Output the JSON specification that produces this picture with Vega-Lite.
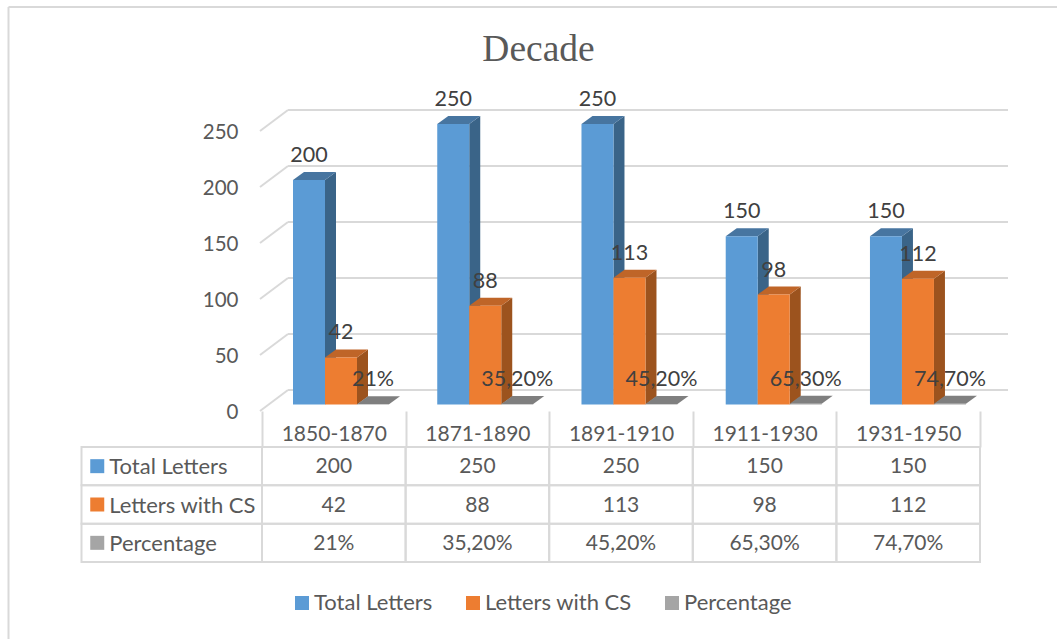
{
"$schema":"https://vega.github.io/schema/vega-lite/v6.json",
"width":1057,"height":639,"autosize":"none","padding":0,"background":"white",
"title":{"text":"Decade","font":"Liberation Serif","fontSize":37.5,"fontWeight":"normal","color":"#595959","anchor":"middle","frame":"group","orient":"top","offset":-68,"dx":10},
"config":{"view":{"stroke":null},"font":"Lato","text":{"font":"Lato"}},
"datasets":{
"bars":[
{"decade":"1850-1870","series":"Total Letters","value":200,"label":"200"},
{"decade":"1871-1890","series":"Total Letters","value":250,"label":"250"},
{"decade":"1891-1910","series":"Total Letters","value":250,"label":"250"},
{"decade":"1911-1930","series":"Total Letters","value":150,"label":"150"},
{"decade":"1931-1950","series":"Total Letters","value":150,"label":"150"},
{"decade":"1850-1870","series":"Letters with CS","value":42,"label":"42"},
{"decade":"1871-1890","series":"Letters with CS","value":88,"label":"88"},
{"decade":"1891-1910","series":"Letters with CS","value":113,"label":"113"},
{"decade":"1911-1930","series":"Letters with CS","value":98,"label":"98"},
{"decade":"1931-1950","series":"Letters with CS","value":112,"label":"112"},
{"decade":"1850-1870","series":"Percentage","value":0.21,"label":"21%"},
{"decade":"1871-1890","series":"Percentage","value":0.352,"label":"35,20%"},
{"decade":"1891-1910","series":"Percentage","value":0.452,"label":"45,20%"},
{"decade":"1911-1930","series":"Percentage","value":0.653,"label":"65,30%"},
{"decade":"1931-1950","series":"Percentage","value":0.747,"label":"74,70%"}
],
"ticks":[{"tick":0},{"tick":50},{"tick":100},{"tick":150},{"tick":200},{"tick":250}],
"rows":[{"series":"Total Letters"},{"series":"Letters with CS"},{"series":"Percentage"}]
},
"layer":[
{"data":{"values":[{"k":"frame"}]},"mark":{"type":"rule","color":"#D9D9D9","strokeWidth":2},
 "encoding":{"x":{"datum":0,"type":"quantitative","axis":null,"scale":{"domain":[0,1],"range":[8.5,1057]}},"y":{"datum":0,"type":"quantitative","axis":null,"scale":{"domain":[0,1],"range":[7,639]}},"y2":{"datum":1}}},
{"data":{"values":[{"k":"frame"}]},"mark":{"type":"rule","color":"#D9D9D9","strokeWidth":2},
 "encoding":{"x":{"datum":0,"type":"quantitative","axis":null,"scale":{"domain":[0,1],"range":[8.5,1057]}},"x2":{"datum":1},"y":{"datum":0,"type":"quantitative","axis":null,"scale":{"domain":[0,1],"range":[7,639]}}}},
{"data":{"name":"ticks"},
 "encoding":{"y":{"field":"tick","type":"quantitative","axis":null,"scale":{"domain":[0,250],"range":[390,110]}}},
 "layer":[
 {"mark":{"type":"rule","color":"#D9D9D9","strokeWidth":2},
  "encoding":{"x":{"datum":0,"type":"quantitative","axis":null,"scale":{"domain":[0,1],"range":[288,1008]}},"x2":{"datum":1}}},
 {"mark":{"type":"point","shape":"M0,0L-28,21","size":4,"filled":false,"stroke":"#D9D9D9","strokeWidth":2,"opacity":1},
  "encoding":{"x":{"datum":0,"type":"quantitative","axis":null,"scale":{"domain":[0,1],"range":[288,1008]}}}}
 ]},
{"data":{"name":"bars"},
 "encoding":{
  "x":{"field":"decade","type":"nominal","title":null,
   "axis":{"orient":"bottom","offset":-228,"domain":false,"tickBand":"extent","tickColor":"#D9D9D9","tickWidth":2,"tickSize":36,"labelPadding":-24,"labelFont":"Lato","labelFontSize":21,"labelColor":"#595959","labelAngle":0,"grid":false,"zindex":0},
   "scale":{"type":"band","range":[262,980],"paddingInner":0,"paddingOuter":0}},
  "y":{"field":"series","type":"nominal","axis":null,"sort":["Total Letters","Letters with CS","Percentage"],"scale":{"type":"band","domain":["Total Letters","Letters with CS","Percentage"],"range":[447,562],"paddingInner":0,"paddingOuter":0}}},
 "layer":[
 {"mark":{"type":"rect","fill":"transparent","stroke":"#D9D9D9","strokeWidth":2}},
 {"mark":{"type":"text","fontSize":21,"color":"#595959","baseline":"middle","dy":1},"encoding":{"text":{"field":"label","type":"nominal"}}}
 ]},
{"data":{"name":"rows"},
 "encoding":{
  "x":{"datum":"Series","type":"nominal","axis":null,"scale":{"type":"band","domain":["Series"],"range":[81.5,262],"paddingInner":0,"paddingOuter":0}},
  "y":{"field":"series","type":"nominal","axis":null,"sort":["Total Letters","Letters with CS","Percentage"],"scale":{"type":"band","domain":["Total Letters","Letters with CS","Percentage"],"range":[447,562],"paddingInner":0,"paddingOuter":0}}},
 "layer":[
 {"mark":{"type":"rect","fill":"transparent","stroke":"#D9D9D9","strokeWidth":2}},
 {"mark":{"type":"text","fontSize":22,"color":"#595959","align":"left","baseline":"middle","dx":-62.5,"dy":1},"encoding":{"text":{"field":"series","type":"nominal"}}},
 {"mark":{"type":"point","shape":"square","size":196,"filled":true,"opacity":1,"strokeWidth":0,"xOffset":-74.5},
  "encoding":{"color":{"field":"series","type":"nominal","legend":null,"scale":{"domain":["Total Letters","Letters with CS","Percentage"],"range":["#5B9BD5","#ED7D31","#A5A5A5"]}}}}
 ]},
{"data":{"name":"bars"},
 "encoding":{
  "x":{"field":"decade","type":"nominal","axis":null,
   "scale":{"type":"band","range":[262,983.2],"paddingInner":0,"paddingOuter":0}},
  "xOffset":{"field":"series","type":"nominal","sort":["Total Letters","Letters with CS","Percentage"],"scale":{"type":"band","domain":["Total Letters","Letters with CS","Percentage"],"range":[31,127],"paddingInner":0,"paddingOuter":0}},
  "y":{"field":"value","type":"quantitative","title":null,"stack":null,
   "axis":{"orient":"left","offset":-242,"domain":false,"ticks":false,"grid":false,"values":[0,50,100,150,200,250],"labelAlign":"right","labelPadding":4,"labelOffset":8,"labelFont":"Lato","labelFontSize":20.5,"labelColor":"#595959"},
   "scale":{"domain":[0,250],"range":[404.5,124],"nice":false,"zero":true}}},
 "layer":[
 {"mark":{"type":"point","filled":true,"size":4,"strokeWidth":0,"opacity":1},
  "encoding":{
   "shape":{"field":"value","type":"nominal","legend":null,"scale":{"domain":[250,200,150,113,112,98,88,42,0.21,0.352,0.452,0.653,0.747],
    "range":["M16,0L27,-8L27,272.5L16,280.5Z","M16,0L27,-8L27,216.4L16,224.4Z","M16,0L27,-8L27,160.3L16,168.3Z","M16,0L27,-8L27,118.8L16,126.8Z","M16,0L27,-8L27,117.7L16,125.7Z","M16,0L27,-8L27,102L16,110Z","M16,0L27,-8L27,90.7L16,98.7Z","M16,0L27,-8L27,39.1L16,47.1Z","M16,0L27,-8L27,-8L16,0Z","M16,0L27,-8L27,-8L16,0Z","M16,0L27,-8L27,-8L16,0Z","M16,0L27,-8L27,-8L16,0Z","M16,0L27,-8L27,-8L16,0Z"]}},
   "color":{"field":"series","type":"nominal","legend":null,"scale":{"domain":["Total Letters","Letters with CS","Percentage"],"range":["#3A6488","#9C531E","#7F7F7F"]}}}},
 {"mark":{"type":"point","filled":true,"size":4,"strokeWidth":0,"opacity":1,"shape":"M-16,0L16,0L27,-8L-5,-8Z"},
  "encoding":{"color":{"field":"series","type":"nominal","legend":null,"scale":{"domain":["Total Letters","Letters with CS","Percentage"],"range":["#4775A0","#BF6528","#7F7F7F"]}}}},
 {"mark":{"type":"bar"},
  "encoding":{"y2":{"datum":0},"color":{"field":"series","type":"nominal","title":null,
   "legend":{"orient":"none","legendX":291,"legendY":592,"direction":"horizontal","symbolType":"square","symbolSize":196,"symbolStrokeWidth":0,"symbolOpacity":1,"labelFont":"Lato","labelFontSize":22,"labelColor":"#595959","columnPadding":29,"labelOffset":1,"title":null},
   "scale":{"domain":["Total Letters","Letters with CS","Percentage"],"range":["#5B9BD5","#ED7D31","#A5A5A5"]}}}},
 {"mark":{"type":"text","fontSize":21.5,"color":"#404040","baseline":"middle","dy":-24},"encoding":{"text":{"field":"label","type":"nominal"}}}
 ],
 "resolve":{"scale":{"color":"independent"}}}
],
"resolve":{"scale":{"x":"independent","y":"independent","color":"independent"}}
}
